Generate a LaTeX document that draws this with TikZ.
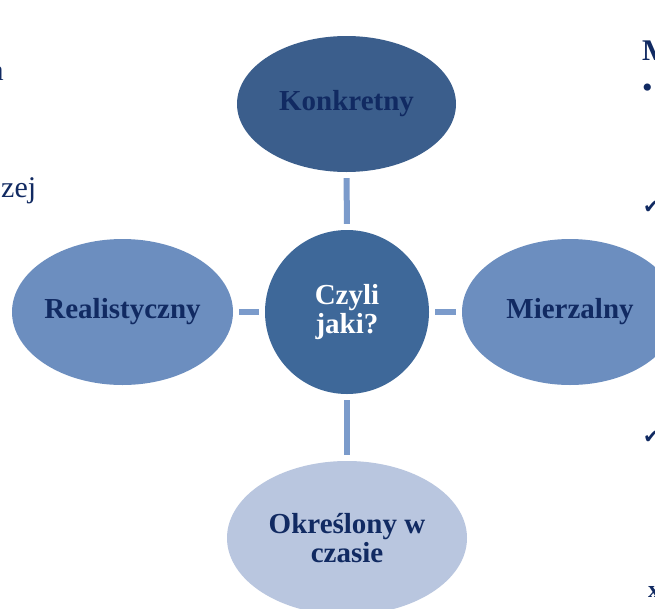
\documentclass[tikz,border=0pt]{standalone}
\usepackage{fontspec}
\setmainfont{Liberation Serif}
\newfontfamily\symfont{DejaVu Sans}
\usetikzlibrary{shapes.geometric}
\definecolor{navy}{HTML}{112A62}
\definecolor{darkblue}{HTML}{3B5E8C}
\definecolor{midblue}{HTML}{3E6899}
\definecolor{sideblue}{HTML}{6C8EBF}
\definecolor{paleblue}{HTML}{B9C6DF}
\definecolor{linkblue}{HTML}{7B9BCB}
\tikzset{
  oval/.style={ellipse, inner sep=0pt, align=center, font=\fontsize{29}{29}\selectfont\bfseries, text=navy},
  hub/.style={circle, inner sep=0pt, minimum size=164pt, align=center, fill=midblue, text=white, font=\fontsize{29}{29}\selectfont\bfseries},
  link/.style={draw=linkblue, line width=6pt, shorten <=6pt, shorten >=6pt},
  frag/.style={inner sep=0pt, anchor=base west, text=navy}
}
\begin{document}
\begin{tikzpicture}[x=1pt,y=-1pt]
\clip (0,0) rectangle (655,608);
\fill[white] (0,0) rectangle (655,608);
\node[hub] (c) at (347,312) {Czyli\\jaki?};
\node[oval, fill=darkblue, minimum width=219pt, minimum height=136pt] (k) at (346.5,104) {Konkretny};
\node[oval, fill=sideblue, minimum width=221pt, minimum height=146pt] (r) at (122.5,312) {Realistyczny};
\node[oval, fill=sideblue, minimum width=216pt, minimum height=146pt] (m) at (570,312) {Mierzalny};
\node[oval, fill=paleblue, minimum width=240pt, minimum height=154pt] (o) at (347,538) {Określony w\\czasie};
\draw[link] (k.south) -- (c.north);
\draw[link] (r.east) -- (c.west);
\draw[link] (c.east) -- (m.west);
\draw[link] (c.south) -- (o.north);
% fragments of surrounding slide text
\node[frag, anchor=base east, font=\fontsize{30}{30}\selectfont] (fa) at (4,80) {a};
\node[frag, font=\fontsize{30}{30}\selectfont] (fz) at (1,197) {zej};
\node[frag, font=\fontsize{30}{30}\selectfont\bfseries] (fm) at (642,60) {M};
\node[frag, font=\fontsize{30}{30}\selectfont] (fb) at (642,97) {•};
\node[frag, font=\symfont\fontsize{20}{20}\selectfont, text=navy] (fc1) at (643,213) {✔};
\node[frag, font=\symfont\fontsize{20}{20}\selectfont, text=navy] (fc2) at (643,443) {✔};
\node[frag, font=\fontsize{24}{24}\selectfont\bfseries] (fx) at (648,597) {x};
\end{tikzpicture}
\end{document}
